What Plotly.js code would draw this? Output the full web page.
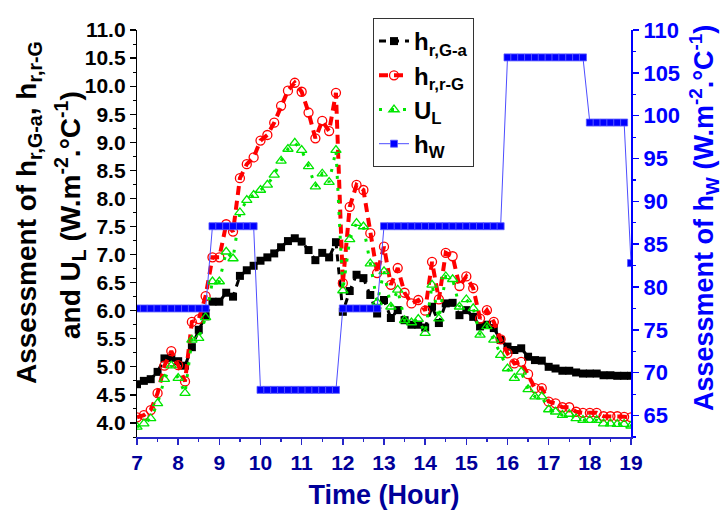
<!DOCTYPE html>
<html>
<head>
<meta charset="utf-8">
<script src="https://cdn.plot.ly/plotly-3.0.1.min.js"></script>
<style>
  html, body { margin: 0; padding: 0; background: #ffffff; }
  #chart { width: 725px; height: 516px; }
</style>
</head>
<body>
<div id="chart"></div>
<script>
// Sampling times (decimal hours, 10-minute steps)
const timeHour = [
  7.000, 7.167, 7.333, 7.500, 7.667, 7.833,
  8.000, 8.167, 8.333, 8.500, 8.667, 8.833,
  9.000, 9.167, 9.333, 9.500, 9.667, 9.833,
  10.000, 10.167, 10.333, 10.500, 10.667, 10.833,
  11.000, 11.167, 11.333, 11.500, 11.667, 11.833,
  12.000, 12.167, 12.333, 12.500, 12.667, 12.833,
  13.000, 13.167, 13.333, 13.500, 13.667, 13.833,
  14.000, 14.167, 14.333, 14.500, 14.667, 14.833,
  15.000, 15.167, 15.333, 15.500, 15.667, 15.833,
  16.000, 16.167, 16.333, 16.500, 16.667, 16.833,
  17.000, 17.167, 17.333, 17.500, 17.667, 17.833,
  18.000, 18.167, 18.333, 18.500, 18.667, 18.833,
  19.000
];

// Radiative coefficient glass -> ambient (W.m-2.°C-1)
const hrGa = [
  4.69, 4.75, 4.78, 4.91, 5.15, 5.16,
  5.10, 5.02, 5.35, 5.66, 5.90, 6.16,
  6.16, 6.32, 6.25, 6.62, 6.72, 6.80,
  6.89, 6.95, 7.02, 7.13, 7.24, 7.29,
  7.23, 7.08, 6.90, 7.03, 6.95, 7.22,
  5.98, 6.35, 6.64, 6.58, 6.28, 5.95,
  6.19, 5.87, 6.01, 5.83, 5.75, 5.75,
  5.70, 6.07, 5.78, 6.13, 6.14, 5.92,
  6.01, 5.89, 5.72, 5.75, 5.69, 5.48,
  5.36, 5.30, 5.33, 5.18, 5.12, 5.11,
  5.00, 4.97, 4.93, 4.93, 4.90, 4.88,
  4.88, 4.88, 4.85, 4.85, 4.84, 4.84,
  4.84
];

// Radiative coefficient roof -> glass
const hrrG = [
  4.10, 4.14, 4.23, 4.53, 5.02, 5.28,
  5.03, 4.74, 5.80, 5.85, 6.26, 6.95,
  6.95, 7.54, 7.41, 8.36, 8.61, 8.73,
  9.03, 9.13, 9.35, 9.65, 9.92, 10.06,
  9.90, 9.53, 9.07, 9.38, 9.20, 9.88,
  6.49, 7.85, 8.24, 8.15, 7.38, 6.67,
  7.14, 6.46, 6.76, 6.32, 6.13, 6.19,
  6.00, 6.87, 6.20, 7.03, 6.97, 6.44,
  6.61, 6.40, 5.86, 6.01, 5.80, 5.49,
  5.24, 5.06, 5.09, 4.87, 4.62, 4.62,
  4.38, 4.35, 4.28, 4.28, 4.20, 4.18,
  4.18, 4.18, 4.12, 4.12, 4.12, 4.11,
  4.10
];

// Overall loss coefficient
const uL = [
  3.93, 3.99, 4.08, 4.35, 4.78, 5.02,
  4.80, 4.53, 5.48, 5.51, 5.88, 6.52,
  6.52, 7.05, 6.93, 7.75, 7.97, 8.06,
  8.15, 8.24, 8.42, 8.67, 8.88, 8.99,
  8.86, 8.57, 8.21, 8.44, 8.29, 8.86,
  6.36, 7.27, 7.56, 7.50, 6.84, 6.15,
  6.70, 6.07, 6.37, 5.83, 5.79, 5.85,
  5.60, 6.46, 5.86, 6.61, 6.56, 6.07,
  6.20, 6.04, 5.57, 5.72, 5.48, 5.21,
  4.97, 4.80, 4.91, 4.60, 4.47, 4.47,
  4.24, 4.20, 4.14, 4.16, 4.08, 4.05,
  4.05, 4.05, 3.99, 3.99, 3.98, 3.98,
  3.95
];

// Wind convective coefficient (right axis)
const hW = [
  77.5, 77.5, 77.5, 77.5, 77.5, 77.5,
  77.5, 77.5, 77.5, 77.5, 77.5, 87.1,
  87.1, 87.1, 87.1, 87.1, 87.1, 87.1,
  68.0, 68.0, 68.0, 68.0, 68.0, 68.0,
  68.0, 68.0, 68.0, 68.0, 68.0, 68.0,
  77.5, 77.5, 77.5, 77.5, 77.5, 77.5,
  87.1, 87.1, 87.1, 87.1, 87.1, 87.1,
  87.1, 87.1, 87.1, 87.1, 87.1, 87.1,
  87.1, 87.1, 87.1, 87.1, 87.1, 87.1,
  106.8, 106.8, 106.8, 106.8, 106.8, 106.8,
  106.8, 106.8, 106.8, 106.8, 106.8, 106.8,
  99.2, 99.2, 99.2, 99.2, 99.2, 99.2,
  82.8
];

const seriesNames = ['h<sub>r,G-a</sub>', 'h<sub>r,r-G</sub>', 'U<sub>L</sub>', 'h<sub>W</sub>'];
const xTickVals = [7, 8, 9, 10, 11, 12, 13, 14, 15, 16, 17, 18, 19];
const leftTickVals = [4.0, 4.5, 5.0, 5.5, 6.0, 6.5, 7.0, 7.5, 8.0, 8.5, 9.0, 9.5, 10.0, 10.5, 11.0];
const rightTickVals = [65, 70, 75, 80, 85, 90, 95, 100, 105, 110];
const leftTitleLines = [
  'Assessment of h<sub>r,G-a</sub>, h<sub>r,r-G</sub>',
  'and U<sub>L</sub> (W.m<sup>-2</sup>.°C<sup>-1</sup>)'
];
const rightTitle = 'Assessment of h<sub>W</sub> (W.m<sup>-2</sup>.°C<sup>-1</sup>)';
const xTitle = 'Time (Hour)';

const FONT = 'Liberation Sans, Arial, Helvetica, sans-serif';
const NAVY = '#000099';
const XLINE = '#2626c8';
const BLUE = '#0000ff';

const traces = [
  {
    x: timeHour, y: hrGa, name: seriesNames[0], type: 'scatter', mode: 'lines+markers',
    line: { color: '#000000', width: 3, dash: '7px,6px' },
    marker: { symbol: 'square', size: 8, color: '#000000' }
  },
  {
    x: timeHour, y: hrrG, name: seriesNames[1], type: 'scatter', mode: 'lines+markers',
    line: { color: '#ff0000', width: 4, dash: '9px,6px' },
    marker: { symbol: 'circle-open', size: 9, color: '#ff0000', line: { width: 1.3, color: '#ff0000' } }
  },
  {
    x: timeHour, y: uL, name: seriesNames[2], type: 'scatter', mode: 'lines+markers',
    line: { color: '#00e600', width: 3, dash: '3px,9px' },
    marker: { symbol: 'triangle-up-open', size: 9, color: '#00e600', line: { width: 1.3, color: '#00e600' } }
  },
  {
    x: timeHour, y: hW, name: seriesNames[3], type: 'scatter', mode: 'lines+markers',
    yaxis: 'y2',
    line: { color: '#4d4dff', width: 1 },
    marker: { symbol: 'square', size: 7, color: BLUE, line: { width: 0.8, color: '#5a5aff' } }
  }
];

const plotL = 137, plotR = 631, plotT = 30, plotB = 437;
const pw = plotR - plotL, ph = plotB - plotT;
const px = v => (v - plotL) / pw;
const py = v => (plotB - v) / ph;

const layout = {
  width: 725, height: 516,
  paper_bgcolor: '#ffffff', plot_bgcolor: '#ffffff',
  margin: { l: plotL, r: 725 - plotR, t: plotT, b: 516 - plotB, pad: 0 },
  font: { family: FONT, weight: 700, color: '#000000' },
  showlegend: true,
  legend: {
    x: px(373), y: py(18), xanchor: 'left', yanchor: 'top',
    bgcolor: '#ffffff', bordercolor: '#333333', borderwidth: 1,
    font: { family: FONT, size: 24, weight: 700, color: '#000000' },
    itemwidth: 30, tracegroupgap: 0
  },
  xaxis: {
    range: [7, 19], tickvals: xTickVals, ticktext: xTickVals.map(String),
    ticks: 'outside', ticklen: 6, tickwidth: 1.5, tickcolor: XLINE,
    showline: true, linecolor: XLINE, linewidth: 1.5,
    showgrid: false, zeroline: false,
    tickfont: { family: FONT, size: 21, weight: 700, color: NAVY },
    minor: { ticks: 'outside', ticklen: 3, tickwidth: 1.2, tickcolor: XLINE, dtick: 0.5, tick0: 7, showgrid: false },
    title: { text: xTitle, font: { family: FONT, size: 27, weight: 700, color: NAVY }, standoff: 12 }
  },
  yaxis: {
    range: [3.75, 11], tickvals: leftTickVals, ticktext: leftTickVals.map(v => v.toFixed(1)),
    ticks: 'outside', ticklen: 6, tickwidth: 1.2, tickcolor: '#000000',
    showline: true, linecolor: '#000000', linewidth: 1.2,
    showgrid: false, zeroline: false,
    tickfont: { family: FONT, size: 21, weight: 700, color: '#000000' },
    minor: { ticks: 'outside', ticklen: 3, tickwidth: 1, tickcolor: '#000000', dtick: 0.25, tick0: 4, showgrid: false }
  },
  yaxis2: {
    overlaying: 'y', side: 'right', anchor: 'x',
    range: [62.5, 110], tickvals: rightTickVals, ticktext: rightTickVals.map(String),
    ticks: 'outside', ticklen: 6, tickwidth: 1.5, tickcolor: BLUE,
    showline: true, linecolor: BLUE, linewidth: 2,
    showgrid: false, zeroline: false,
    tickfont: { family: FONT, size: 22, weight: 700, color: BLUE },
    minor: { ticks: 'outside', ticklen: 3, tickwidth: 1.2, tickcolor: BLUE, dtick: 2.5, tick0: 65, showgrid: false }
  },
  annotations: [
    {
      text: leftTitleLines[0], xref: 'paper', yref: 'paper', x: px(28), y: py(213),
      xanchor: 'center', yanchor: 'middle', textangle: -90, showarrow: false,
      font: { family: FONT, size: 28, weight: 700, color: '#000000' }
    },
    {
      text: leftTitleLines[1], xref: 'paper', yref: 'paper', x: px(70), y: py(215),
      xanchor: 'center', yanchor: 'middle', textangle: -90, showarrow: false,
      font: { family: FONT, size: 28, weight: 700, color: '#000000' }
    },
    {
      text: rightTitle, xref: 'paper', yref: 'paper', x: px(704), y: py(218),
      xanchor: 'center', yanchor: 'middle', textangle: -90, showarrow: false,
      font: { family: FONT, size: 27, weight: 700, color: BLUE }
    }
  ]
};

Plotly.newPlot('chart', traces, layout, { displayModeBar: false, staticPlot: true });
</script>
</body>
</html>
